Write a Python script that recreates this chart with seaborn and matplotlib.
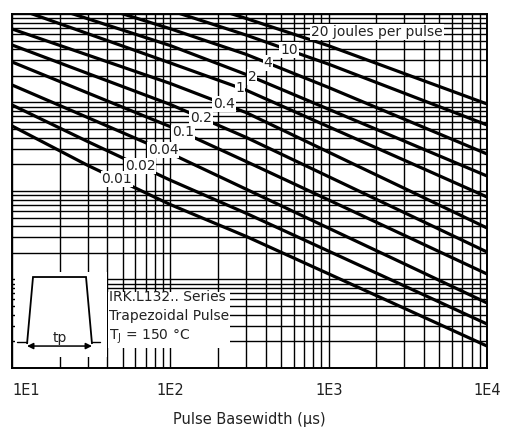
import numpy as np
import pandas as pd
import matplotlib
matplotlib.use("Agg")
import matplotlib.pyplot as plt
from matplotlib.ticker import FixedLocator, FixedFormatter, LogLocator, NullFormatter
from matplotlib.patches import Rectangle, Polygon
import seaborn as sns

# Pulse basewidth sample points (µs)
basewidth_us = [10, 30, 100, 300, 1000, 3000, 10000]

# Peak current for each energy-per-pulse curve at the sample points (A)
peak_001 = [5430, 1951, 702, 307.7, 115.7, 47.3, 17.7]
peak_002 = [9371, 3625, 1324, 561.4, 208.9, 84.7, 31.4]
peak_004 = [15770, 6768, 2660, 1051, 379.8, 150.5, 54.3]
peak_01 = [28690, 12840, 5328, 2160, 791, 315.8, 115.4]
peak_02 = [44630, 21320, 9493, 4044, 1451, 570, 204.5]
peak_04 = [67690, 34420, 16390, 7709, 2744, 1073, 381.9]
peak_1 = [120600, 60050, 27950, 13810, 5313, 2228, 855.4]
peak_2 = [167400, 88490, 43940, 20770, 8381, 3663, 1477]
peak_4 = [np.nan, 133500, 68050, 35050, 14770, 6475, 2619]
peak_10 = [np.nan, 220000, 109500, 57890, 27090, 12740, 5569]
peak_20 = [np.nan, np.nan, 167000, 89190, 43720, 21210, 9618]

energies = ["0.01", "0.02", "0.04", "0.1", "0.2", "0.4", "1", "2", "4", "10", "20"]
curves = [peak_001, peak_002, peak_004, peak_01, peak_02, peak_04,
          peak_1, peak_2, peak_4, peak_10, peak_20]

# Where each curve carries its energy label (µs)
label_x = [46.0, 64.3, 89.9, 120.2, 156.2, 218.3, 275.4, 328, 414, 561.7]

tick_values = [10, 100, 1000, 10000]
tick_labels = ["1E1", "1E2", "1E3", "1E4"]

rows = []
for e, ys in zip(energies, curves):
    for t, i in zip(basewidth_us, ys):
        rows.append({"energy": e, "t": t, "I": i})
df = pd.DataFrame(rows).dropna()

sns.set_theme(style="white")
plt.rcParams["font.family"] = ["DejaVu Sans"]

fig = plt.figure(figsize=(5.07, 4.30), dpi=100)
ax = fig.add_axes([0.0237, 0.1442, 0.9369, 0.8233])
ax.set_xscale("log")
ax.set_yscale("log")

sns.lineplot(data=df, x="t", y="I", units="energy", estimator=None,
             color="black", linewidth=2.3, sort=False, ax=ax, legend=False)

ax.set_xlim(10, 10000)
ax.set_ylim(10, 100000)

for axis in (ax.xaxis, ax.yaxis):
    axis.set_minor_locator(LogLocator(base=10, subs=np.arange(2, 10)))
    axis.set_minor_formatter(NullFormatter())
ax.set_axisbelow(True)
ax.grid(which="both", color="black", linewidth=1.0)

ax.xaxis.set_major_locator(FixedLocator(tick_values))
ax.xaxis.set_major_formatter(FixedFormatter(tick_labels))
ax.tick_params(axis="both", which="both", length=0)
ax.tick_params(axis="x", pad=11, labelsize=10.5, colors="#222222")
ax.set_yticklabels([])
ax.set_xlabel("Pulse Basewidth (µs)", fontsize=10.5, labelpad=10, color="#222222")
ax.set_ylabel("")
xt = ax.get_xticklabels()
xt[0].set_horizontalalignment("left")

for s in ax.spines.values():
    s.set_color("black")
    s.set_linewidth(1.4)

# energy labels on the curves
for e, ys, lx in zip(energies[:-1], curves[:-1], label_x):
    lt = np.log10(basewidth_us)
    ly = np.array(ys, dtype=float)
    ok = ~np.isnan(ly)
    yv = 10 ** np.interp(np.log10(lx), lt[ok], np.log10(ly[ok]))
    ax.text(lx, yv, e, ha="center", va="center", fontsize=10, color="#222222",
            bbox=dict(facecolor="white", edgecolor="none", pad=0.6), zorder=4)

ax.text(773.6, 62600, "20 joules per pulse", ha="left", va="center", fontsize=10,
        color="#222222", bbox=dict(facecolor="white", edgecolor="none", pad=0.8), zorder=4)

# inset with pulse shape and conditions
ax.add_patch(Rectangle((0.0063, 0.031), 0.194, 0.24, transform=ax.transAxes,
                       facecolor="white", edgecolor="none", zorder=3))
tz = ax.transAxes
ax.add_patch(Polygon([(0.0316, 0.0678), (0.0442, 0.257), (0.1558, 0.257), (0.1684, 0.0678)],
                     closed=False, fill=False, edgecolor="black", linewidth=1.3,
                     transform=tz, zorder=4))
ax.plot([0.0105, 0.0316], [0.0734, 0.0734], color="black", lw=1.0, transform=tz, zorder=4)
ax.plot([0.1684, 0.1853], [0.0734, 0.0734], color="black", lw=1.0, transform=tz, zorder=4)
ax.annotate("", xy=(0.0316, 0.062), xytext=(0.1684, 0.062), xycoords=tz, textcoords=tz,
            arrowprops=dict(arrowstyle="<|-|>", color="black", lw=1.1,
                            mutation_scale=9, shrinkA=0, shrinkB=0), zorder=4)
ax.text(0.101, 0.085, "tp", transform=tz, ha="center", va="center", fontsize=10,
        color="#222222", zorder=5)
ax.text(0.204, 0.141,
        "IRK.L132.. Series\nTrapezoidal Pulse\nT$_\\mathregular{J}$ = 150 °C",
        transform=tz, ha="left", va="center", fontsize=10, color="#222222",
        linespacing=1.45, zorder=5,
        bbox=dict(facecolor="white", edgecolor="none", pad=1.0))

fig.savefig("out.png", dpi=100)
